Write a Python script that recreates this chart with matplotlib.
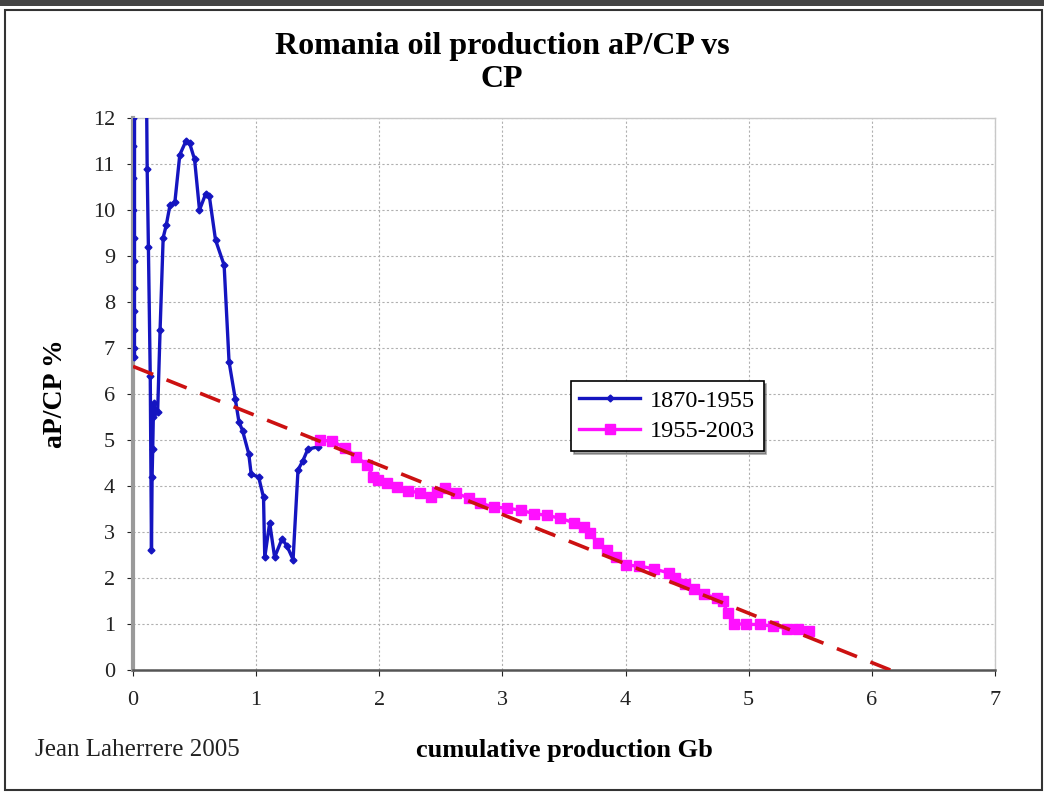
import matplotlib
matplotlib.use("Agg")
import matplotlib.pyplot as plt
from matplotlib.patches import Rectangle

# 1870-1955 (blue): cumulative production (Gb) vs aP/CP (%)
blue_cp = [0.0, 0.0, 0.002, 0.003, 0.004, 0.005, 0.006, 0.007, 0.008, 0.009,
           0.010, 0.012, 0.014, 0.100, 0.110, 0.115, 0.125, 0.140, 0.150,
           0.155, 0.160, 0.165, 0.170, 0.180, 0.200, 0.220, 0.245, 0.270,
           0.300, 0.340, 0.380, 0.430, 0.460, 0.500, 0.540, 0.590, 0.620,
           0.670, 0.740, 0.780, 0.830, 0.860, 0.890, 0.940, 0.960, 1.020,
           1.060, 1.070, 1.110, 1.150, 1.210, 1.250, 1.300, 1.340, 1.380,
           1.420, 1.500]
blue_ratio = [30.0, 12.0, 11.4, 10.7, 10.0, 9.4, 8.9, 8.3, 7.8, 7.4,
              7.0, 6.8, 40.0, 14.0, 12.5, 10.9, 9.2, 6.4, 2.6,
              4.2, 4.8, 5.5, 5.8, 5.6, 5.6, 7.4, 9.4, 9.67,
              10.1, 10.17, 11.2, 11.5, 11.45, 11.1, 10.0, 10.35, 10.3,
              9.35, 8.8, 6.7, 5.9, 5.4, 5.2, 4.7, 4.25, 4.2,
              3.75, 2.45, 3.2, 2.45, 2.85, 2.7, 2.4, 4.35, 4.55,
              4.8, 4.85]

# 1955-2003 (magenta)
mag_cp = [1.52, 1.62, 1.72, 1.81, 1.90, 1.95, 1.99, 2.06, 2.14, 2.23, 2.33,
          2.42, 2.47, 2.53, 2.62, 2.73, 2.82, 2.93, 3.04, 3.15, 3.26, 3.36,
          3.47, 3.58, 3.66, 3.71, 3.78, 3.85, 3.92, 4.00, 4.11, 4.23, 4.35,
          4.40, 4.48, 4.56, 4.64, 4.74, 4.79, 4.83, 4.88, 4.98, 5.09, 5.20,
          5.31, 5.40, 5.49]
mag_ratio = [5.0, 4.97, 4.83, 4.64, 4.46, 4.2, 4.13, 4.07, 3.98, 3.9, 3.85,
             3.76, 3.87, 3.95, 3.84, 3.74, 3.63, 3.54, 3.52, 3.47, 3.4, 3.36,
             3.3, 3.2, 3.1, 2.97, 2.75, 2.6, 2.45, 2.28, 2.26, 2.2, 2.11,
             2.0, 1.87, 1.76, 1.65, 1.56, 1.49, 1.23, 1.01, 0.99, 0.99, 0.95,
             0.9, 0.88, 0.84]

# linear trend
trend_cp = [0.0, 6.15]
trend_ratio = [6.6, 0.0]

serif = ["Liberation Serif", "DejaVu Serif"]
plt.rcParams["font.family"] = serif

fig = plt.figure(figsize=(10.44, 7.94), dpi=100)
ax = fig.add_axes([0.1274, 0.1562, 0.8256, 0.6952])

ax.plot(trend_cp, trend_ratio, color="#cc1111", lw=2.6, ls=(0, (6, 4)), zorder=4)
ax.plot(blue_cp, blue_ratio, color="#1515c0", lw=2.4, marker="D", ms=3.5,
        label="1870-1955", zorder=3)
ax.plot(mag_cp, mag_ratio, color="#ff10ff", lw=2.4, marker="s", ms=7,
        label="1955-2003", zorder=3)

ax.set_xlim(0, 7)
ax.set_ylim(0, 12)
ax.set_xticks(range(0, 8))
ax.set_yticks(range(0, 13))
ax.tick_params(labelsize=16, length=4, colors="#222222")
ax.tick_params(axis="y", pad=9)
ax.tick_params(axis="x", pad=11)
ax.grid(True, color="#b0b0b0", ls=(0, (2, 2)), lw=0.8)
ax.set_axisbelow(True)
ax.spines["left"].set_color("#9a9a9a")
ax.spines["left"].set_linewidth(3)
ax.spines["bottom"].set_color("#555555")
ax.spines["bottom"].set_linewidth(1.8)
for sp in ("top", "right"):
    ax.spines[sp].set_color("#c8c8c8")
    ax.spines[sp].set_linewidth(1)

ax.set_ylabel("aP/CP %", fontsize=20, fontweight="bold", labelpad=18)

fig.text(0.541, 0.055, "cumulative production Gb", fontsize=19,
         fontweight="bold", ha="center", va="center")
fig.text(0.481, 0.921, "Romania oil production aP/CP vs\nCP", ha="center",
         va="center", fontsize=23, fontweight="bold", linespacing=1.2)
fig.text(0.034, 0.055, "Jean Laherrere 2005", fontsize=18, ha="left",
         va="center", color="#222222")

leg = ax.legend(loc="upper left", bbox_to_anchor=(0.494, 0.545), fontsize=17.5,
                frameon=True, fancybox=False, shadow=True, borderpad=0.35,
                handlelength=2.5, handletextpad=0.4, labelspacing=0.35)
leg.get_frame().set_edgecolor("black")
leg.get_frame().set_linewidth(1.2)

# outer frame
fig.patches.append(Rectangle((0.005, 0.005), 0.993, 0.982, transform=fig.transFigure,
                             fill=False, edgecolor="#333333", lw=1.5))
fig.patches.append(Rectangle((0.0, 0.992), 1.0, 0.008, transform=fig.transFigure,
                             facecolor="#444444", edgecolor="none"))

fig.savefig("out.png", dpi=100)
